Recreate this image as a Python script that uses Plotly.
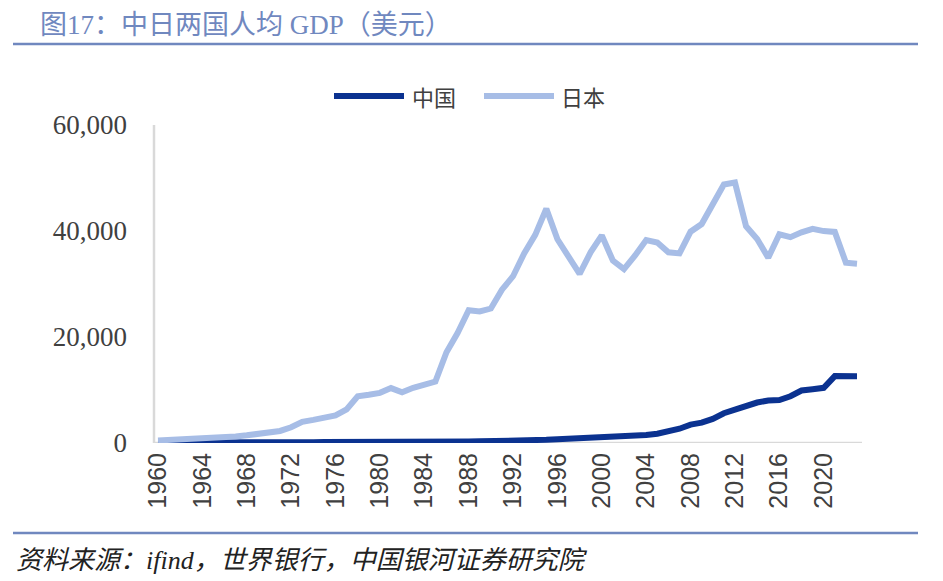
import plotly.graph_objects as go

years = list(range(1960, 2024))
china = [90, 76, 71, 75, 85, 98, 104, 97, 91, 100,
         113, 119, 132, 157, 160, 178, 165, 185, 156, 184,
         195, 197, 203, 225, 251, 294, 282, 252, 284, 311,
         318, 333, 367, 377, 473, 610, 709, 782, 829, 873,
         959, 1053, 1149, 1289, 1509, 1753, 2099, 2694, 3468, 3832,
         4550, 5614, 6301, 7020, 7636, 8016, 8094, 8817, 9905, 10144,
         10409, 12618, 12720, 12614]
japan = [475, 563, 633, 717, 835, 919, 1058, 1229, 1451, 1669,
         2037, 2272, 2967, 3997, 4354, 4659, 5198, 6335, 8821, 9105,
         9463, 10361, 9578, 10425, 10984, 11585, 17112, 20745, 25052, 24813,
         25371, 28925, 31465, 35766, 39269, 44198, 38437, 35022, 31903, 36027,
         39169, 34406, 32821, 35387, 38299, 37813, 35991, 35779, 39876, 41309,
         44968, 48760, 49145, 40898, 38475, 34961, 39375, 38834, 39751, 40416,
         39987, 39827, 34017, 33834]
series_names = ["中国", "日本"]
tick_years = list(range(1960, 2024, 4))
y_ticks = [0, 20000, 40000, 60000]

C_CN = "#0B3290"
C_JP = "#A7BDE6"
C_ACC = "#7088BF"

# page has an 8px body margin; work in screen pixels and shift
OFF = 8
W, H = 943 - OFF, 581 - OFF
L, R, T, B = 154 - OFF, 862 - OFF, 125 - OFF, 443 - OFF

def px(x):
    return (x - OFF - L) / (R - L)

def py(y):
    return (B - (y - OFF)) / (B - T)

fig = go.Figure()
fig.add_trace(go.Scatter(x=years, y=china, name=series_names[0], mode="lines",
                         line=dict(color=C_CN, width=6)))
fig.add_trace(go.Scatter(x=years, y=japan, name=series_names[1], mode="lines",
                         line=dict(color=C_JP, width=6)))

fig.update_layout(
    width=W, height=H,
    margin=dict(l=L, r=W - R, t=T, b=H - B),
    paper_bgcolor="white", plot_bgcolor="white",
    showlegend=False,
    xaxis=dict(range=[1959.64, 2023.45], tickmode="array", tickvals=tick_years,
               ticktext=[str(y) for y in tick_years], tickangle=-90,
               showgrid=False, zeroline=False, showline=False, ticks="",
               ticklabelstandoff=4,
               tickfont=dict(family="Liberation Sans Narrow, Liberation Sans", size=25, color="#404040")),
    yaxis=dict(range=[0, 60000], tickmode="array", tickvals=y_ticks,
               ticktext=[f"{v:,}" for v in y_ticks],
               showgrid=False, zeroline=False, showline=False, ticks="",
               ticklabelstandoff=26,
               tickfont=dict(family="Liberation Serif", size=27, color="#404040")),
)

shapes = [
    dict(type="line", xref="paper", yref="paper", x0=px(13), x1=px(918), y0=py(44), y1=py(44),
         line=dict(color=C_ACC, width=2.5)),
    dict(type="line", xref="paper", yref="paper", x0=px(13), x1=px(918), y0=py(533), y1=py(533),
         line=dict(color=C_ACC, width=2.5)),
    dict(type="line", xref="paper", yref="paper", x0=0, x1=0, y0=0, y1=1,
         line=dict(color="#D9D9D9", width=2.5)),
    dict(type="line", xref="paper", yref="y", x0=0, x1=1, y0=0, y1=0,
         line=dict(color="#D9D9D9", width=2.5), layer="below"),
    dict(type="line", xref="paper", yref="paper", x0=px(334), x1=px(404), y0=py(96), y1=py(96),
         line=dict(color=C_CN, width=6)),
    dict(type="line", xref="paper", yref="paper", x0=px(484), x1=px(554), y0=py(96), y1=py(96),
         line=dict(color=C_JP, width=6)),
]
fig.update_layout(shapes=shapes)

ann = [
    dict(text="图17：中日两国人均 GDP（美元）", x=px(38), y=py(25), xanchor="left", yanchor="middle",
         font=dict(family="Liberation Serif, Noto Sans CJK SC", size=27, color=C_ACC)),
    dict(text="<i>资料来源：ifind，世界银行，中国银河证券研究院</i>", x=px(14), y=py(560),
         xanchor="left", yanchor="middle",
         font=dict(family="Liberation Serif, Noto Sans CJK SC", size=26, color="#222222")),
    dict(text=series_names[0], x=px(410), y=py(96), xanchor="left", yanchor="middle",
         font=dict(family="Noto Sans CJK SC", size=22, color="#404040")),
    dict(text=series_names[1], x=px(559), y=py(96), xanchor="left", yanchor="middle",
         font=dict(family="Noto Sans CJK SC", size=22, color="#404040")),
]
for a in ann:
    a.update(xref="paper", yref="paper", showarrow=False)
fig.update_layout(annotations=ann)

fig.write_html("out.html")
